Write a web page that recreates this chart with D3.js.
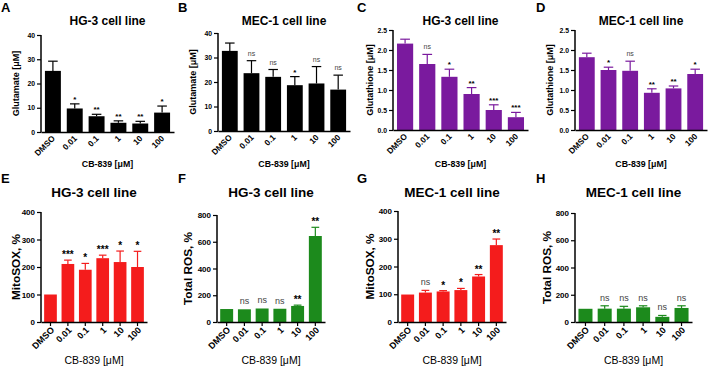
<!DOCTYPE html>
<html>
<head>
<meta charset="utf-8">
<script src="https://cdn.jsdelivr.net/npm/d3@7"></script>
<style>
  body { margin: 0; background: #fff; }
  svg { display: block; font-family: "Liberation Sans", Arial, sans-serif; }
</style>
</head>
<body>
<svg id="fig" width="715" height="369"></svg>
<script>
// doses of CB-839 [uM]
const doses = ["DMSO", "0.01", "0.1", "1", "10", "100"];

// A - glutamate, HG-3
const glutHG3 = [25.2, 9.7, 6.5, 3.8, 3.5, 8.0];
const glutHG3Err = [4.0, 1.9, 0.8, 0.8, 0.9, 2.7];
const glutHG3Sig = ["", "*", "**", "**", "**", "*"];

// B - glutamate, MEC-1
const glutMEC1 = [32.7, 23.6, 22.1, 18.7, 19.4, 16.9];
const glutMEC1Err = [3.2, 5.1, 3.0, 3.5, 6.9, 5.9];
const glutMEC1Sig = ["", "ns", "ns", "*", "ns", "ns"];

// C - glutathione, HG-3
const gshHG3 = [2.16, 1.65, 1.33, 0.90, 0.50, 0.32];
const gshHG3Err = [0.11, 0.24, 0.19, 0.16, 0.13, 0.12];
const gshHG3Sig = ["", "ns", "*", "**", "***", "***"];

// D - glutathione, MEC-1
const gshMEC1 = [1.82, 1.50, 1.48, 0.93, 1.04, 1.40];
const gshMEC1Err = [0.10, 0.07, 0.24, 0.10, 0.06, 0.12];
const gshMEC1Sig = ["", "*", "ns", "**", "**", "*"];

// E - MitoSOX, HG-3
const mitoHG3 = [100, 211, 190, 232, 218, 200];
const mitoHG3Err = [0, 14, 23, 11, 40, 57];
const mitoHG3Sig = ["", "***", "*", "***", "*", "*"];

// F - total ROS, HG-3
const rosHG3 = [97, 95, 101, 99, 120, 643];
const rosHG3Err = [0, 0, 0, 0, 6, 65];
const rosHG3Sig = ["", "ns", "ns", "ns", "**", "**"];

// G - MitoSOX, MEC-1
const mitoMEC1 = [99, 106, 110, 115, 164, 277];
const mitoMEC1Err = [0, 8, 3, 6, 7, 22];
const mitoMEC1Sig = ["", "ns", "*", "*", "**", "**"];

// H - total ROS, MEC-1
const rosMEC1 = [97, 98, 98, 108, 38, 103];
const rosMEC1Err = [0, 21, 17, 11, 10, 16];
const rosMEC1Sig = ["", "ns", "ns", "ns", "ns", "ns"];

const glutTicks = [0, 10, 20, 30, 40];
const gshTicks = [0, 0.5, 1.0, 1.5, 2.0, 2.5];
const mitoTicks = [0, 100, 200, 300, 400];
const rosTicks = [0, 200, 400, 600, 800];

const BLACK = "#000000", PURPLE = "#7a1a9e", RED = "#f41c1c", GREEN = "#1c8a1c";

var svg = d3.select("#fig");

// top row panels are a bit smaller than the bottom ones
var rowTop = { title: 12, tick: 6.8, xtick: 8.3, ylab: 9, xlab: 8.8, sig: 7, xlabY: 167, titleY: 25, xticks: false, xlabW: "bold" };
var rowBot = { title: 13.5, tick: 8, xtick: 9, ylab: 11.8, xlab: 10.5, sig: 9, xlabY: 364, titleY: 197, xticks: true, xlabW: "normal" };

var panels = [
    { letter: "A", lx: 1, ly: 12, title: "HG-3 cell line", ylabel: "Glutamate [\u03bcM]", vals: glutHG3, errs: glutHG3Err, sig: glutHG3Sig, color: BLACK, ticks: glutTicks, max: 40, fmt: d3.format("d"), x0: 41, x1: 174, y0: 35, y1: 132, ylx: 16, st: rowTop },
    { letter: "B", lx: 178, ly: 12, title: "MEC-1 cell line", ylabel: "Glutamate [\u03bcM]", vals: glutMEC1, errs: glutMEC1Err, sig: glutMEC1Sig, color: BLACK, ticks: glutTicks, max: 40, fmt: d3.format("d"), x0: 218, x1: 350, y0: 33, y1: 131, ylx: 193, st: rowTop },
    { letter: "C", lx: 357, ly: 12, title: "HG-3 cell line", ylabel: "Glutathione [\u03bcM]", vals: gshHG3, errs: gshHG3Err, sig: gshHG3Sig, color: PURPLE, ticks: gshTicks, max: 2.5, fmt: d3.format(".1f"), x0: 393, x1: 528, y0: 30, y1: 130, ylx: 370, st: rowTop },
    { letter: "D", lx: 536, ly: 12, title: "MEC-1 cell line", ylabel: "Glutathione [\u03bcM]", vals: gshMEC1, errs: gshMEC1Err, sig: gshMEC1Sig, color: PURPLE, ticks: gshTicks, max: 2.5, fmt: d3.format(".1f"), x0: 575, x1: 707, y0: 30, y1: 130, ylx: 550, st: rowTop },
    { letter: "E", lx: 1, ly: 183, title: "HG-3 cell line", ylabel: "MitoSOX, %", vals: mitoHG3, errs: mitoHG3Err, sig: mitoHG3Sig, color: RED, ticks: mitoTicks, max: 400, fmt: d3.format("d"), x0: 41, x1: 147, y0: 212, y1: 322, ylx: 16, st: rowBot },
    { letter: "F", lx: 178, ly: 183, title: "HG-3 cell line", ylabel: "Total ROS, %", vals: rosHG3, errs: rosHG3Err, sig: rosHG3Sig, color: GREEN, ticks: rosTicks, max: 800, fmt: d3.format("d"), x0: 217, x1: 325, y0: 215, y1: 322, ylx: 188, st: rowBot },
    { letter: "G", lx: 357, ly: 183, title: "MEC-1 cell line", ylabel: "MitoSOX, %", vals: mitoMEC1, errs: mitoMEC1Err, sig: mitoMEC1Sig, color: RED, ticks: mitoTicks, max: 400, fmt: d3.format("d"), x0: 398, x1: 506, y0: 211, y1: 322, ylx: 370, st: rowBot },
    { letter: "H", lx: 536, ly: 183, title: "MEC-1 cell line", ylabel: "Total ROS, %", vals: rosMEC1, errs: rosMEC1Err, sig: rosMEC1Sig, color: GREEN, ticks: rosTicks, max: 800, fmt: d3.format("d"), x0: 575, x1: 692, y0: 213, y1: 322, ylx: 547, st: rowBot }
];

panels.forEach(function(p){
    var st = p.st;
    var g = svg.append("g").attr("class", "panel");

    var x = d3.scaleBand().domain(doses).range([p.x0, p.x1]).paddingInner(0.27).paddingOuter(0.18);
    var y = d3.scaleLinear().domain([0, p.max]).range([p.y1, p.y0]);

    // panel letter
    g.append("text")
        .attr("x", p.lx).attr("y", p.ly)
        .style("font-size", "13px").style("font-weight", "bold")
        .text(p.letter);

    // title
    g.append("text")
        .attr("x", (p.x0 + p.x1) / 2).attr("y", st.titleY)
        .attr("text-anchor", "middle")
        .style("font-size", st.title + "px").style("font-weight", "bold")
        .text(p.title);

    var rows = doses.map(function(d, i){ return { dose: d, v: p.vals[i], e: p.errs[i], s: p.sig[i] }; });

    // bars
    g.selectAll("rect.bar").data(rows).join("rect")
        .attr("class", "bar")
        .attr("x", function(d){ return x(d.dose); })
        .attr("y", function(d){ return y(d.v); })
        .attr("width", x.bandwidth())
        .attr("height", function(d){ return y(0) - y(d.v); })
        .attr("fill", p.color);

    // error bars, upper only
    var capW = x.bandwidth() * 0.3;
    var eb = g.selectAll("g.err").data(rows.filter(function(d){ return d.e > 0; })).join("g").attr("class", "err");
    eb.append("line")
        .attr("x1", function(d){ return x(d.dose) + x.bandwidth() / 2; })
        .attr("x2", function(d){ return x(d.dose) + x.bandwidth() / 2; })
        .attr("y1", function(d){ return y(d.v); })
        .attr("y2", function(d){ return y(d.v + d.e); })
        .style("stroke", p.color).style("stroke-width", "1.2px");
    eb.append("line")
        .attr("x1", function(d){ return x(d.dose) + x.bandwidth() / 2 - capW; })
        .attr("x2", function(d){ return x(d.dose) + x.bandwidth() / 2 + capW; })
        .attr("y1", function(d){ return y(d.v + d.e); })
        .attr("y2", function(d){ return y(d.v + d.e); })
        .style("stroke", p.color).style("stroke-width", "1.2px");

    // significance marks
    g.selectAll("text.sig").data(rows.filter(function(d){ return d.s != ""; })).join("text")
        .attr("class", "sig")
        .attr("x", function(d){ return x(d.dose) + x.bandwidth() / 2; })
        .attr("y", function(d){ return y(d.v + d.e) - (d.s == "ns" ? 5 : 2); })
        .attr("text-anchor", "middle")
        .style("font-size", function(d){ return (d.s == "ns" ? st.sig : st.sig + 1) + "px"; })
        .style("fill", function(d){ return d.s == "ns" ? "#444" : "#000"; })
        .style("font-weight", function(d){ return d.s == "ns" ? "normal" : "bold"; })
        .text(function(d){ return d.s; });

    // y axis
    var ya = g.append("g")
        .attr("transform", "translate(" + p.x0 + ",0)")
        .call(d3.axisLeft(y).tickValues(p.ticks).tickFormat(p.fmt).tickSize(4).tickPadding(2));
    ya.select(".domain").style("stroke-width", "1.5px").attr("d", "M0," + (p.y1 + 0.5) + "V" + p.y0);
    ya.selectAll(".tick line").style("stroke-width", "1.2px");
    ya.selectAll("text").style("font-size", st.tick + "px").style("font-weight", "bold").style("font-family", "Liberation Sans, Arial, sans-serif");

    // x axis
    var xa = g.append("g")
        .attr("transform", "translate(0," + p.y1 + ")")
        .call(d3.axisBottom(x).tickSize(st.xticks ? 4 : 0).tickSizeOuter(0).tickPadding(st.xticks ? 4 : 3));
    xa.select(".domain").style("stroke-width", "1.5px");
    xa.selectAll(".tick line").style("stroke-width", "1.2px");
    xa.selectAll("text")
        .style("font-size", st.xtick + "px").style("font-weight", "bold")
        .style("font-family", "Liberation Sans, Arial, sans-serif")
        .attr("text-anchor", "end")
        .attr("dy", "0.35em")
        .attr("transform", "rotate(-45)")
        .attr("x", -3).attr("y", st.xticks ? 6 : 4);

    // axis labels
    g.append("text")
        .attr("transform", "translate(" + p.ylx + "," + ((p.y0 + p.y1) / 2) + ") rotate(-90)")
        .attr("text-anchor", "middle")
        .attr("dy", "0.35em")
        .style("font-size", st.ylab + "px").style("font-weight", "bold")
        .text(p.ylabel);

    g.append("text")
        .attr("x", (p.x0 + p.x1) / 2).attr("y", st.xlabY)
        .attr("text-anchor", "middle")
        .style("font-size", st.xlab + "px").style("font-weight", st.xlabW)
        .text("CB-839 [\u03bcM]");
});
</script>
</body>
</html>
